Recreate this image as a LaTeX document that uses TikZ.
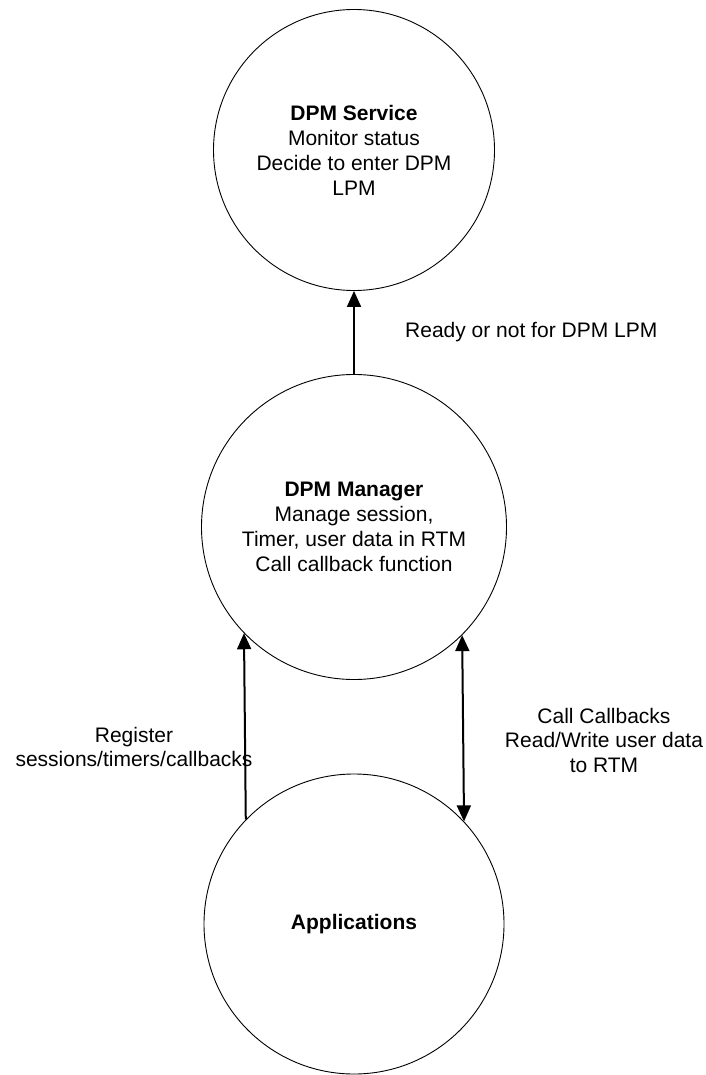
\documentclass[tikz,border=0pt]{standalone}
\usepackage{fontspec}
\setmainfont{Liberation Sans}
\usetikzlibrary{arrows.meta}
\tikzset{
  bubble/.style={circle, draw=black, line width=0.9pt, inner sep=0pt, align=center,
    font=\fontsize{21}{25}\selectfont},
  lbl/.style={inner sep=0pt, align=center, font=\fontsize{21}{24.5}\selectfont},
  flow/.style={line width=2pt, -{Triangle[length=16pt,width=14pt]}},
  biflow/.style={line width=2pt, {Triangle[length=16pt,width=14pt]}-{Triangle[length=16pt,width=14pt]}}
}
\begin{document}
\begin{tikzpicture}[x=1pt,y=-1pt]
\useasboundingbox (0,0) rectangle (705,1075);
\node[bubble, minimum size=281pt] (svc) at (354,150)
  {\textbf{DPM Service}\\Monitor status\\Decide to enter DPM\\LPM};
\node[bubble, minimum size=305pt] (mgr) at (354,527)
  {\textbf{DPM Manager}\\Manage session,\\Timer, user data in RTM\\Call callback function};
\node[bubble, minimum size=300pt] (app) at (354,924) {\textbf{Applications}};

\draw[flow] (mgr.north) -- (svc.south);
\node[lbl, anchor=base west] (rdy) at (405,337) {Ready or not for DPM LPM};

\draw[flow] (app.136) -- (mgr.224.8);
\node[lbl] (reg) at (134,747) {Register\\sessions/timers/callbacks};

\draw[biflow] (app.43.4) -- (mgr.315.8);
\node[lbl] (cb) at (604,740) {Call Callbacks\\Read/Write user data\\to RTM};
\end{tikzpicture}
\end{document}
